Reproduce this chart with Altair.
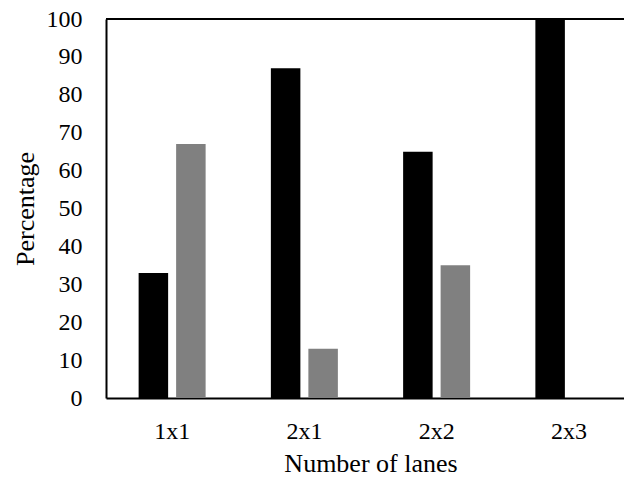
import altair as alt
import pandas as pd

categories = ["1x1", "2x1", "2x2", "2x3"]
series_names = ["Series A", "Series B"]
series_a = [33, 87, 65, 100]
series_b = [67, 13, 35, 0]
y_ticks = list(range(0, 101, 10))

rows = []
for c, a, b in zip(categories, series_a, series_b):
    rows.append({"lanes": c, "series": series_names[0], "value": a})
    rows.append({"lanes": c, "series": series_names[1], "value": b})
df = pd.DataFrame(rows)

FONT = "Liberation Serif"

y_axis = alt.Axis(title="Percentage", values=y_ticks, grid=False, ticks=False,
                  labelOverlap=False, labelFlush=False,
                  domainColor="black", domainWidth=2,
                  labelPadding=24, titlePadding=8,
                  labelFontSize=24, titleFontSize=26,
                  labelFont=FONT, titleFont=FONT,
                  labelColor="black", titleColor="black",
                  titleFontWeight="normal")
y_scale = alt.Scale(domain=[0, 100], nice=False)

bars = alt.Chart(df).mark_bar().encode(
    x=alt.X("lanes:N", sort=categories,
            scale=alt.Scale(paddingInner=0, paddingOuter=0, range=[0, 529]),
            axis=alt.Axis(title="Number of lanes", labelAngle=0, ticks=False,
                          domainColor="black", domainWidth=2,
                          labelPadding=21, titlePadding=7,
                          labelFontSize=24, titleFontSize=26,
                          labelFont=FONT, titleFont=FONT,
                          labelColor="black", titleColor="black",
                          titleFontWeight="normal")),
    xOffset=alt.XOffset("series:N", sort=series_names,
                        scale=alt.Scale(paddingInner=0.213, paddingOuter=0.87)),
    y=alt.Y("value:Q", scale=y_scale, axis=y_axis),
    color=alt.Color("series:N", sort=series_names,
                    scale=alt.Scale(domain=series_names, range=["#000000", "#808080"]),
                    legend=None),
)

top = alt.Chart(pd.DataFrame({"value": [100]})).mark_rule(color="black", strokeWidth=2).encode(
    y=alt.Y("value:Q", scale=y_scale, axis=y_axis)
)

chart = alt.layer(bars, top).properties(
    width=518, height=379,
    padding={"left": 98, "top": 11, "right": 0, "bottom": 80},
    autosize=alt.AutoSizeParams(type="none"),
).configure_view(stroke=None)

chart.save("out.html", embed_options={"renderer": "svg", "actions": False})
